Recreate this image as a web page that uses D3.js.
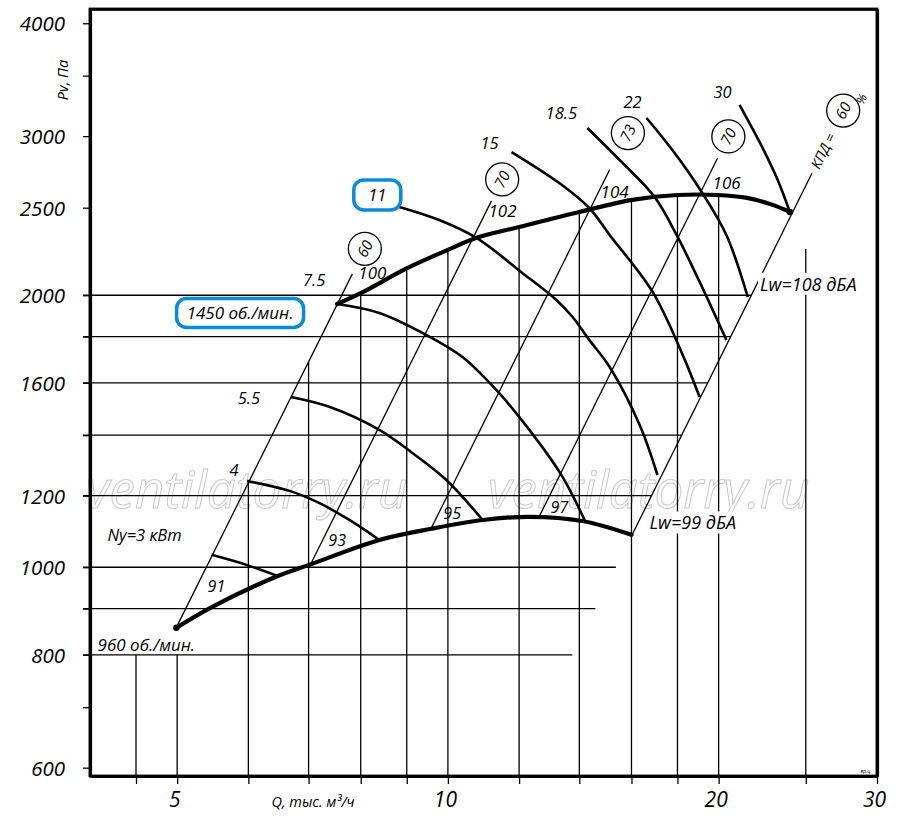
<!DOCTYPE html>
<html><head><meta charset="utf-8">
<script src="https://cdn.jsdelivr.net/npm/d3@7"></script>
<style>
html,body{margin:0;padding:0;background:#fff;overflow:hidden}
svg{display:block}
svg text{font-family:"Open Sans","Noto Sans",sans-serif;font-style:italic;fill:#000}
</style>
</head><body>
<svg id="c" width="900" height="822" viewBox="0 0 900 822"></svg>
<script>
// ---------- data ----------
const xTicks=[4.5,5,6,7,8,9,10,12,14,16,18,20,25,30];
const xLabels=[5,10,20,30];
const yTicks=[600,700,800,900,1000,1200,1400,1600,1800,2000,2500,3000,3500,4000];
const yLabels=[600,800,1000,1200,1600,2000,2500,3000,4000];
const hGrid=[800,900,1000,1200,1400,1600,1800,2000];
const vGrid=[4.5,5,6,7,8,9,10,12,14,16,18,20,25];
const vGridCapQ=[4.5,5,25];
const vGridCapP=[800,800,2250];

const rpm960=[[4.99,857],[5.47,904],[6.44,976],[7.01,1006],[8.39,1072],[9.58,1103],[10.93,1128],[12.32,1137],[14.11,1125],[16.0,1086]];
const rpm1450=[[7.53,1956],[8.01,2012],[9.02,2144],[10.0,2245],[10.76,2315],[12.0,2380],[14.0,2473],[16.04,2550],[18.0,2582],[19.95,2582],[21.5,2563],[22.97,2518],[24.0,2473]];

const powerLabels=["Ny=3 кВт","4","5.5","7.5","11","15","18.5","22","30"];
const power3=[[5.46,1032],[5.97,1006],[6.46,978]];
const power4=[[5.98,1246],[6.68,1214],[7.19,1178],[7.77,1128],[8.39,1072]];
const power5_5=[[6.69,1543],[7.38,1505],[8.39,1419],[9.13,1338],[9.96,1249],[10.93,1128]];
const power7_5=[[7.53,1956],[8.39,1912],[9.46,1808],[10.38,1709],[11.32,1571],[12.32,1419],[13.41,1259],[14.19,1128]];
const power11=[[8.83,2505],[9.78,2423],[10.76,2315],[12.1,2117],[13.2,1976],[13.76,1892],[14.36,1785],[15.13,1666],[16.34,1437],[17.1,1265]];
const power15=[[11.77,2881],[13.3,2662],[14.36,2498],[15.13,2332],[16.89,2017],[18.24,1718],[19.05,1543]];
const power18_5=[[14.29,3063],[15.6,2809],[16.97,2570],[17.96,2332],[19.05,2069],[20.4,1785]];
const power22=[[16.63,3142],[17.87,2874],[19.15,2602],[20.4,2332],[21.55,1991]];
const power30=[[21.1,3248],[22.38,2911],[23.26,2684],[24.0,2473]];
const powerCurves=[power3,power4,power5_5,power7_5,power11,power15,power18_5,power22,power30];

const diagK=[34.45,20.35,12.03,7.13,4.23];
const diagQlow=[4.99,7.01,9.58,12.64,16.0];
const diagQhigh=[7.83,11.18,15.13,19.95,25.4];
const lwLow=["91","93","95","97","Lw=99 дБА"];
const lwHigh=["100","102","104","106","Lw=108 дБА"];
const effVals=["60","70","73","70","60"];

// ---------- layout (pixel offsets, styles) ----------
const lowOff=[[40,-41],[28,-27],[21,-15],[20,-9],[18,-13]];
const highOff=[[20,-1],[11,10],[5,22],[9,25],[-52,111]];
const effDist=[28,24,41,24,70];
const powOff=[[-67,-20],[-13,-11],[-42,1],[-23,-24],[-22,-12],[-22,-9],[-26,-15],[-14,-16],[-17,-13]];

const svg=d3.select("#c");
const x=d3.scaleLog().domain([4,30]).range([90,877]);
const y=d3.scaleLog().domain([587.4,4148]).range([776,9]);
const X0=90,X1=877,Y0=776,Y1=9;

function interpLog(arr,q){
  if(q<arr[0][0]||q>arr[arr.length-1][0]) return Infinity;
  for(let i=0;i<arr.length-1;i++){
    const a=arr[i],b=arr[i+1];
    if(q>=a[0]&&q<=b[0]){
      const t=(Math.log(q)-Math.log(a[0]))/(Math.log(b[0])-Math.log(a[0]));
      return Math.exp(Math.log(a[1])+t*(Math.log(b[1])-Math.log(a[1])));
    }
  }
  return Infinity;
}

// ---------- watermark (behind) ----------
[86,488].forEach(wx=>{
  svg.append("text").attr("x",wx).attr("y",508).attr("font-size",51)
    .style("fill","none").style("stroke","#c9c9c9").style("stroke-width","1px")
    .text("ventilatorry.ru");
});

// ---------- grid ----------
const grid=svg.append("g").style("stroke","#000").style("stroke-width","1.3px");
hGrid.forEach(P=>{
  const qEnd=Math.sqrt(P/diagK[4]);
  grid.append("line").attr("x1",83).attr("x2",x(qEnd)).attr("y1",y(P)).attr("y2",y(P));
});
vGrid.forEach(Q=>{
  const ci=vGridCapQ.indexOf(Q);
  let top;
  if(ci>=0) top=vGridCapP[ci];
  else top=Math.min(diagK[0]*Q*Q, interpLog(rpm1450,Q));
  grid.append("line").attr("x1",x(Q)).attr("x2",x(Q)).attr("y1",Y0).attr("y2",y(top));
});

// ---------- diagonals ----------
const dg=svg.append("g").style("stroke","#000").style("stroke-width","1.3px");
diagK.forEach((k,i)=>{
  const a=[diagQlow[i],k*diagQlow[i]**2], b=[diagQhigh[i],k*diagQhigh[i]**2];
  dg.append("line").attr("x1",x(a[0])).attr("y1",y(a[1])).attr("x2",x(b[0])).attr("y2",y(b[1]));
});

// ---------- curves ----------
const lineGen=d3.line().x(d=>x(d[0])).y(d=>y(d[1])).curve(d3.curveCatmullRom.alpha(0.5));
svg.append("g").selectAll("path").data(powerCurves).join("path")
  .attr("d",lineGen).style("fill","none").style("stroke","#000").style("stroke-width","2.6px");
[rpm960,rpm1450].forEach(c=>{
  svg.append("path").attr("d",lineGen(c)).style("fill","none").style("stroke","#000")
    .style("stroke-width","4.2px").style("stroke-linecap","round");
});
[rpm960[0],rpm1450[rpm1450.length-1]].forEach(p=>{
  svg.append("circle").attr("cx",x(p[0])).attr("cy",y(p[1])).attr("r",3.2).style("fill","#000");
});

// ---------- axes ----------
const xa=svg.append("g").attr("transform",`translate(0,${Y0})`)
  .call(d3.axisBottom(x).tickValues(xTicks).tickSize(8).tickSizeOuter(0).tickFormat(d=>xLabels.includes(d)?d:""));
xa.select(".domain").style("stroke-width","3.2px");
xa.selectAll(".tick line").style("stroke-width","1.3px");
xa.selectAll(".tick text").attr("font-size",21).attr("y",31).attr("dy",null).attr("x",-3)
  .style("font-family",'"Open Sans",sans-serif').style("font-style","italic");
const ya=svg.append("g").attr("transform",`translate(${X0},0)`)
  .call(d3.axisLeft(y).tickValues(yTicks).tickSize(7).tickSizeOuter(0).tickFormat(d=>yLabels.includes(d)?d:""));
ya.select(".domain").style("stroke-width","3.2px");
ya.selectAll(".tick line").style("stroke-width","1.3px");
ya.selectAll(".tick text").attr("font-size",20.5).attr("x",-25).attr("dy","0.36em")
  .style("font-family",'"Open Sans",sans-serif').style("font-style","italic");
// top and right frame as tick-less axes
const ta=svg.append("g").attr("transform",`translate(0,${Y1})`)
  .call(d3.axisTop(x).tickValues([]).tickSizeOuter(0));
ta.select(".domain").style("stroke","#000").style("stroke-width","2.6px");
const ra=svg.append("g").attr("transform",`translate(${X1},0)`)
  .call(d3.axisRight(y).tickValues([]).tickSizeOuter(0));
ra.select(".domain").style("stroke","#000").style("stroke-width","3.2px");

svg.append("text").attr("transform","translate(68,80) rotate(-90)").attr("text-anchor","middle")
  .attr("font-size",14.5).text("Pv, Па");
svg.append("text").attr("x",313).attr("y",807).attr("text-anchor","middle").attr("font-size",14.5)
  .text("Q, тыс. м³/ч");

// ---------- diagonal labels ----------
function labelWithBg(px,py,txt,anchor,size,bg){
  const g=svg.append("g");
  const rect=bg?g.append("rect").style("fill","#fff"):null;
  const t=g.append("text").attr("x",px).attr("y",py).attr("dy","0.36em").attr("text-anchor",anchor)
    .attr("font-size",size).text(txt);
  if(bg){
    const bb=t.node().getBBox();
    rect.attr("x",bb.x-2).attr("y",bb.y+1).attr("width",bb.width+4).attr("height",bb.height-2);
  }
  return t;
}
diagK.forEach((k,i)=>{
  const lx=x(diagQlow[i]), ly=y(k*diagQlow[i]**2);
  const hx=x(diagQhigh[i]), hy=y(k*diagQhigh[i]**2);
  const last=i===diagK.length-1;
  labelWithBg(lx+lowOff[i][0],ly+lowOff[i][1],lwLow[i],last?"start":"middle",last?18:16,last);
  labelWithBg(hx+highOff[i][0],hy+highOff[i][1],lwHigh[i],last?"start":"middle",last?18:17,last);
  const dx=hx-lx, dy=hy-ly, L=Math.hypot(dx,dy);
  const cx=hx+dx/L*effDist[i], cy=hy+dy/L*effDist[i];
  const ang=Math.atan2(dy,dx)*180/Math.PI;
  svg.append("circle").attr("cx",cx).attr("cy",cy).attr("r",16.5).style("fill","#fff")
    .style("stroke","#000").style("stroke-width","1.3px");
  svg.append("text").attr("transform",`translate(${cx},${cy}) rotate(${ang})`)
    .attr("text-anchor","middle").attr("dy","0.36em").attr("font-size",15).text(effVals[i]);
  if(last){
    const tx=hx+dx/L*25, ty=hy+dy/L*25;
    svg.append("text").attr("transform",`translate(${tx},${ty}) rotate(${ang})`)
      .attr("text-anchor","middle").attr("dy","0.36em").attr("font-size",14).text("КПД =");
    const px2=cx+dx/L*14+12, py2=cy+dy/L*14+1;
    svg.append("text").attr("transform",`translate(${px2},${py2}) rotate(${ang})`)
      .attr("text-anchor","middle").attr("dy","0.36em").attr("font-size",12).text("%");
  }
});

// ---------- power labels ----------
powerCurves.forEach((c,i)=>{
  const px=x(c[0][0])+powOff[i][0], py=y(c[0][1])+powOff[i][1];
  if(powerLabels[i]==="11"){
    svg.append("rect").attr("x",px-23.5).attr("y",py-15).attr("width",47).attr("height",30)
      .attr("rx",10).style("fill","#fff").style("stroke","#0a8ad8").style("stroke-width","3.5px");
  }
  svg.append("text").attr("x",px).attr("y",py).attr("dy","0.36em").attr("text-anchor","middle")
    .attr("font-size",16.5).text(powerLabels[i]);
});

// ---------- rpm labels ----------
{
  const s=rpm1450[0];
  const px=x(s[0])-97, py=y(s[1])+9;
  svg.append("rect").attr("x",px-63.5).attr("y",py-14.5).attr("width",127).attr("height",29)
    .attr("rx",10).style("fill","#fff").style("stroke","#0a8ad8").style("stroke-width","3.5px");
  svg.append("text").attr("x",px).attr("y",py).attr("dy","0.36em").attr("text-anchor","middle")
    .attr("font-size",17).text("1450 об./мин.");
  const s2=rpm960[0];
  svg.append("text").attr("x",x(s2[0])-30).attr("y",y(s2[1])+17).attr("dy","0.36em").attr("text-anchor","middle")
    .attr("font-size",17).text("960 об./мин.");
}

svg.append("text").attr("x",866).attr("y",773).attr("text-anchor","middle").attr("font-size",5).text("вр.ц.");

// frame outline on top of everything
svg.append("rect").attr("x",X0).attr("y",Y1).attr("width",X1-X0).attr("height",Y0-Y1)
  .style("fill","none").style("stroke","#000").style("stroke-width","2.8px");
</script>
</body></html>
